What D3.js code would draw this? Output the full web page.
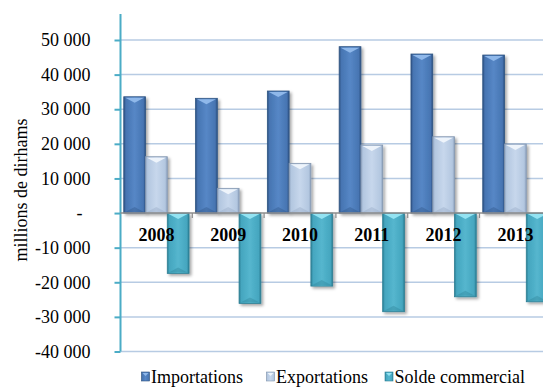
<!DOCTYPE html>
<html>
<head>
<meta charset="utf-8">
<script src="https://cdn.jsdelivr.net/npm/d3@7"></script>
<style>
  html, body { margin: 0; padding: 0; background: #fff; }
  svg { display: block; }
  text { font-family: "Liberation Serif", "Times New Roman", serif; fill: #000; }
</style>
</head>
<body>
<svg id="chart" width="543" height="387"></svg>
<script>
// Commerce extérieur, millions de dirhams
const years = ["2008", "2009", "2010", "2011", "2012", "2013"];
const seriesNames = ["Importations", "Exportations", "Solde commercial"];
const importations = [33600, 33150, 35260, 48070, 45950, 45660];
const exportations = [16270, 7140, 14360, 19650, 22050, 19940];
const solde = [-17430, -26100, -21100, -28500, -24190, -25630];
const yTicks = [50000, 40000, 30000, 20000, 10000, 0, -10000, -20000, -30000, -40000];
const yTickLabels = ["50 000", "40 000", "30 000", "20 000", "10 000", "-", "-10 000", "-20 000", "-30 000", "-40 000"];

const seriesValues = [importations, exportations, solde];
const palette = [
  { edge: "#2c4f80", mid: "#4775b2", light: "#5687c6", bevel: "#8fb8ea", stroke: "#2f5583" },
  { edge: "#8ea3bf", mid: "#b3c7e0", light: "#c7d7ec", bevel: "#eef4fb", stroke: "#8497b0" },
  { edge: "#2a7d93", mid: "#45a6bf", light: "#55b6ce", bevel: "#93e3f2", stroke: "#2d7f94" }
];

const svg = d3.select("#chart");
const plotLeft = 120.5, plotRight = 551.3, plotTop = 14;

const y = d3.scaleLinear().domain([-40000, 50000]).range([351.5, 40]);
const x0 = d3.scaleBand().domain(years).range([plotLeft, plotRight]).paddingInner(0).paddingOuter(0);
const x1 = d3.scaleBand().domain(d3.range(3)).range([0, x0.bandwidth()]).paddingInner(0).paddingOuter(0.15);

const defs = svg.append("defs");
palette.forEach((p, i) => {
  const g = defs.append("linearGradient").attr("id", "grad" + i)
    .attr("x1", "0%").attr("x2", "100%").attr("y1", "0%").attr("y2", "0%");
  [[0, p.edge], [0.1, p.mid], [0.5, p.light], [0.9, p.mid], [1, p.edge]].forEach(([o, c]) =>
    g.append("stop").attr("offset", o).attr("stop-color", c));
});
const shadow = defs.append("filter").attr("id", "shadow")
  .attr("x", "-30%").attr("y", "-10%").attr("width", "160%").attr("height", "130%");
shadow.append("feDropShadow").attr("dx", 2).attr("dy", 2).attr("stdDeviation", 1.6)
  .attr("flood-color", "#000").attr("flood-opacity", 0.35);

// horizontal gridlines
svg.append("g").selectAll("line").data(yTicks.filter(d => d !== 0)).join("line")
  .attr("x1", plotLeft).attr("x2", 543)
  .attr("y1", d => y(d)).attr("y2", d => y(d))
  .attr("stroke", "#b7cbe3").attr("stroke-width", 1.5);

// y axis
const yAxis = d3.axisLeft(y).tickValues(yTicks).tickSize(6)
  .tickFormat((d, i) => yTickLabels[i]);
const gy = svg.append("g").attr("transform", `translate(${plotLeft},0)`).call(yAxis);
gy.select(".domain").remove();
gy.selectAll(".tick line").attr("stroke", "#4bacc6").attr("stroke-width", 2);
gy.selectAll(".tick text")
  .attr("font-family", "Liberation Serif, Times New Roman, serif")
  .attr("font-size", 18).attr("fill", "#000")
  .attr("x", -30).attr("dy", "0.32em");
gy.selectAll(".tick text").filter(d => d === 0)
  .attr("text-anchor", "middle").attr("x", -41);

// bars
const groups = svg.append("g").selectAll("g").data(years).join("g")
  .attr("transform", d => `translate(${x0(d)},0)`);

const bars = groups.selectAll("g.bar")
  .data((yr, j) => seriesValues.map((vals, i) => ({ i, v: vals[j] })))
  .join("g").attr("class", "bar");

bars.each(function (d) {
  const g = d3.select(this);
  const p = palette[d.i];
  const bx = x1(d.i), bw = x1.bandwidth();
  const top = y(Math.max(0, d.v)), bot = y(Math.min(0, d.v));
  const h = bot - top;
  g.append("rect").attr("x", bx).attr("y", top).attr("width", bw).attr("height", h)
    .attr("fill", "url(#grad" + d.i + ")").attr("stroke", p.stroke).attr("stroke-width", 0.8)
    .attr("filter", "url(#shadow)");
  // top bevel
  g.append("path")
    .attr("d", `M${bx + 1.5},${top + 1} L${bx + bw - 1.5},${top + 1} L${bx + bw / 2},${top + 6} Z`)
    .attr("fill", p.bevel);
  // bottom bevel
  g.append("path")
    .attr("d", `M${bx + 1.5},${bot - 1} L${bx + bw - 1.5},${bot - 1} L${bx + bw / 2},${bot - 6} Z`)
    .attr("fill", p.edge).attr("opacity", 0.35);
});

// vertical axis line
svg.append("line").attr("x1", plotLeft).attr("x2", plotLeft)
  .attr("y1", plotTop).attr("y2", y(-40000))
  .attr("stroke", "#4bacc6").attr("stroke-width", 2);

// category axis at zero
svg.append("line").attr("x1", plotLeft).attr("x2", 543)
  .attr("y1", y(0)).attr("y2", y(0))
  .attr("stroke", "#8c8c8c").attr("stroke-width", 1.5);
svg.append("g").selectAll("line").data(years.slice(1)).join("line")
  .attr("x1", d => x0(d)).attr("x2", d => x0(d))
  .attr("y1", y(0)).attr("y2", y(0) + 5)
  .attr("stroke", "#8c8c8c").attr("stroke-width", 1.2);

// year labels
svg.append("g").selectAll("text").data(years).join("text")
  .attr("x", d => x0(d) + x0.bandwidth() / 2)
  .attr("y", 241)
  .attr("text-anchor", "middle")
  .attr("font-size", 18).attr("font-weight", "bold")
  .text(d => d);

// y axis title
svg.append("text")
  .attr("transform", "translate(27,190) rotate(-90)")
  .attr("text-anchor", "middle")
  .attr("font-size", 18)
  .text("millions de dirhams");

// legend
const legendX = [141.5, 266.5, 385];
const legend = svg.append("g").selectAll("g").data(seriesNames).join("g")
  .attr("transform", (d, i) => `translate(${legendX[i]},372)`);
legend.append("rect").attr("width", 8).attr("height", 9)
  .attr("fill", (d, i) => "url(#grad" + i + ")")
  .attr("stroke", (d, i) => palette[i].stroke).attr("stroke-width", 0.6);
legend.append("path").attr("d", "M1,1 L7,1 L4,4 Z")
  .attr("fill", (d, i) => palette[i].bevel);
legend.append("text").attr("x", 9.5).attr("y", 11).attr("font-size", 18).text(d => d);
</script>
</body>
</html>
